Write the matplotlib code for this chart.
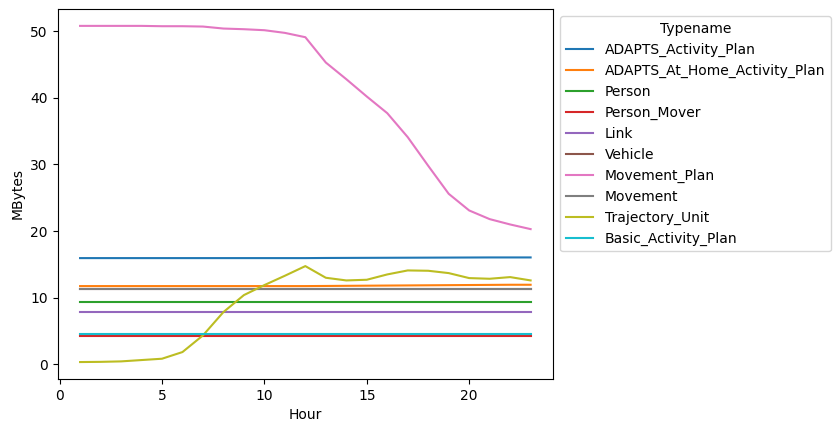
import matplotlib
matplotlib.use("Agg")
import matplotlib.pyplot as plt

hours = list(range(1, 24))

adapts_activity_plan = [15.95] * 12 + [15.97, 15.98, 15.99, 16.0, 16.01, 16.02, 16.03, 16.04, 16.05, 16.05, 16.05]
adapts_at_home_activity_plan = [11.75] * 12 + [11.77, 11.79, 11.81, 11.83, 11.85, 11.87, 11.89, 11.91, 11.93, 11.95, 11.95]
person = [9.35] * 23
person_mover = [4.25] * 23
link = [7.85] * 23
vehicle = [11.3] * 23
movement_plan = [50.8, 50.8, 50.8, 50.8, 50.75, 50.75, 50.7, 50.4, 50.3, 50.15, 49.75, 49.1,
                 45.3, 42.8, 40.2, 37.7, 34.1, 29.8, 25.6, 23.1, 21.8, 21.0, 20.3]
movement = [11.3] * 23
trajectory_unit = [0.35, 0.38, 0.45, 0.65, 0.85, 1.85, 4.35, 7.85, 10.4, 11.9, 13.3, 14.75,
                   13.0, 12.6, 12.7, 13.5, 14.1, 14.05, 13.7, 12.95, 12.85, 13.1, 12.6]
basic_activity_plan = [4.55] * 23

names = ["ADAPTS_Activity_Plan", "ADAPTS_At_Home_Activity_Plan", "Person", "Person_Mover",
         "Link", "Vehicle", "Movement_Plan", "Movement", "Trajectory_Unit", "Basic_Activity_Plan"]
series = [adapts_activity_plan, adapts_at_home_activity_plan, person, person_mover, link,
          vehicle, movement_plan, movement, trajectory_unit, basic_activity_plan]

fig = plt.figure(figsize=(8.4, 4.32), dpi=100)
ax = fig.add_axes([0.0685, 0.123, 0.590, 0.856])

for name, vals in zip(names, series):
    ax.plot(hours, vals, label=name)

ax.set_xlabel("Hour")
ax.set_ylabel("MBytes")
ax.legend(title="Typename", bbox_to_anchor=(1, 1), loc="upper left")

fig.savefig("out.png", dpi=100)
